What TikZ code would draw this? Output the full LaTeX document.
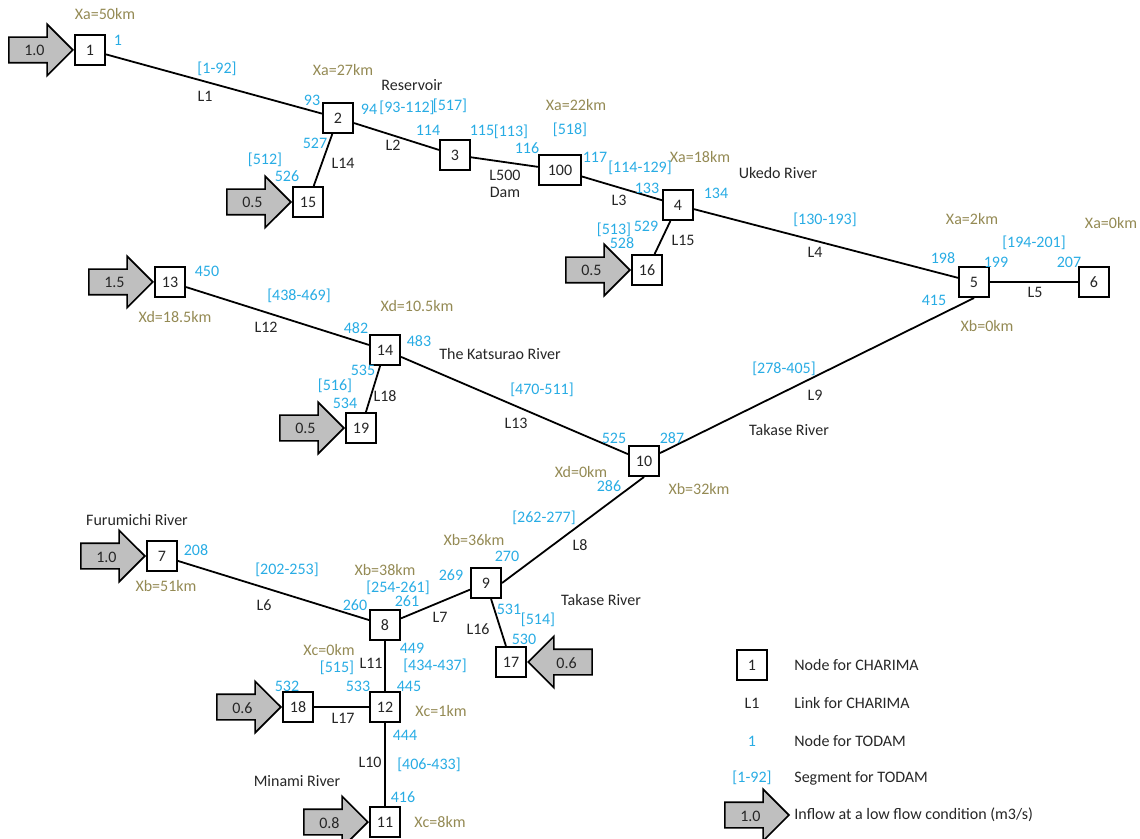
\documentclass[tikz,border=0pt]{standalone}
\usepackage{fontspec}
\setmainfont{Carlito}
\usetikzlibrary{shapes.arrows}
\definecolor{todamblue}{RGB}{40,172,228}
\definecolor{xtan}{RGB}{148,138,84}
\definecolor{txtgray}{RGB}{38,38,38}
\newcommand\lblfont{\fontsize{8}{8.6}\selectfont}
\tikzset{
  chbox/.style={
    rectangle, draw=black, line width=1pt, fill=white,
    minimum size=15pt, inner sep=1pt,
    font=\lblfont, text=txtgray
  },
  inflow/.style={
    single arrow, draw=black, line width=0.8pt, fill=gray!50,
    minimum height=32pt, single arrow head extend=6.5pt,
    text height=6pt, text depth=0pt, inner ysep=3pt, inner xsep=2pt,
    font=\lblfont, text=txtgray, anchor=tip
  },
  link/.style={line width=0.9pt, color=black},
  tnode/.style={inner sep=0pt, font=\lblfont, text=todamblue},
  xlab/.style={inner sep=0pt, font=\lblfont, text=xtan},
  lab/.style={inner sep=0pt, font=\lblfont, text=txtgray},
  legtext/.style={inner sep=0pt, font=\lblfont, text=txtgray, anchor=west},
}

\begin{document}
\begin{tikzpicture}[x=0.5pt, y=-0.5pt]
  \useasboundingbox (0,0) rectangle (1140,839);

  \node[chbox] (n1)   at (90,50)   {1};
  \node[chbox] (n2)   at (338,118) {2};
  \node[chbox] (n3)   at (455,155) {3};
  \node[chbox, minimum width=21pt] (n100) at (560,170) {100};
  \node[chbox] (n4)   at (678,205) {4};
  \node[chbox] (n5)   at (974,282) {5};
  \node[chbox] (n6)   at (1094,282) {6};
  \node[chbox] (n15)  at (308,202) {15};
  \node[chbox] (n16)  at (647,270) {16};
  \node[chbox] (n13)  at (170,282) {13};
  \node[chbox] (n14)  at (385,350) {14};
  \node[chbox] (n19)  at (361,428) {19};
  \node[chbox] (n10)  at (644,461) {10};
  \node[chbox] (n7)   at (162,556) {7};
  \node[chbox] (n8)   at (385,625) {8};
  \node[chbox] (n9)   at (486,583) {9};
  \node[chbox] (n17)  at (511,662) {17};
  \node[chbox] (n12)  at (385,707) {12};
  \node[chbox] (n18)  at (298,707) {18};
  \node[chbox] (n11)  at (385,822) {11};

  \draw[link] (n1) -- (n2);
  \draw[link] (n2) -- (n3);
  \draw[link] (n3) -- (n100);
  \draw[link] (n100) -- (n4);
  \draw[link] (n4) -- (n5);
  \draw[link] (n5) -- (n6);
  \draw[link] (n2) -- (n15);
  \draw[link] (n4) -- (n16);
  \draw[link] (n13) -- (n14);
  \draw[link] (n14) -- (n19);
  \draw[link] (n14) -- (n10);
  \draw[link] (n5.south) -- (n10);
  \draw[link] (n10.south) -- (n9.east);
  \draw[link] (n9) -- (n8);
  \draw[link] (n7) -- (n8);
  \draw[link] (n9) -- (n17);
  \draw[link] (n8) -- (n12);
  \draw[link] (n12) -- (n18);
  \draw[link] (n12) -- (n11);

  \node[inflow] (q1)  at (n1.west)  {1.0};
  \node[inflow] (q15) at (n15.west) {0.5};
  \node[inflow] (q16) at (n16.west) {0.5};
  \node[inflow] (q13) at (n13.west) {1.5};
  \node[inflow] (q19) at (n19.west) {0.5};
  \node[inflow] (q7)  at (n7.west)  {1.0};
  \node[inflow, shape border rotate=180] (q17) at (n17.east) {0.6};
  \node[inflow] (q18) at (n18.west) {0.6};
  \node[inflow] (q11) at (n11.west) {0.8};

  \node[xlab] (xa50)  at (105,14)  {Xa=50km};
  \node[xlab] (xa27)  at (343,70)  {Xa=27km};
  \node[xlab] (xa22)  at (576,105) {Xa=22km};
  \node[xlab] (xa18)  at (700,157) {Xa=18km};
  \node[xlab] (xa2)   at (972,219) {Xa=2km};
  \node[xlab] (xa0)   at (1111,223) {Xa=0km};
  \node[xlab] (xb0)   at (987,326) {Xb=0km};
  \node[xlab] (xd185) at (175,317) {Xd=18.5km};
  \node[xlab] (xd105) at (417,306) {Xd=10.5km};
  \node[xlab] (xd0)   at (581,472) {Xd=0km};
  \node[xlab] (xb32)  at (699,489) {Xb=32km};
  \node[xlab] (xb36)  at (474,540) {Xb=36km};
  \node[xlab] (xb38)  at (385,570) {Xb=38km};
  \node[xlab] (xb51)  at (166,586) {Xb=51km};
  \node[xlab] (xc0)   at (329,650) {Xc=0km};
  \node[xlab] (xc1)   at (441,711) {Xc=1km};
  \node[xlab] (xc8)   at (440,822) {Xc=8km};

  \node[tnode] (t1)   at (118,40)  {1};
  \node[tnode] (s1)   at (217,69)  {[1-92]};
  \node[tnode] (t93)  at (312,100) {93};
  \node[tnode] (t94)  at (369,109) {94};
  \node[tnode] (s93)  at (407,108) {[93-112]};
  \node[tnode] (s517) at (450,106) {[517]};
  \node[tnode] (t114) at (428,130) {114};
  \node[tnode] (t115) at (482,130) {115};
  \node[tnode] (s113) at (511,132) {[113]};
  \node[tnode] (t116) at (527,148) {116};
  \node[tnode] (s518) at (570,130) {[518]};
  \node[tnode] (t117) at (595,157) {117};
  \node[tnode] (s114) at (640,168) {[114-129]};
  \node[tnode] (t133) at (647,188) {133};
  \node[tnode] (t134) at (716,193) {134};
  \node[tnode] (s130) at (825,220) {[130-193]};
  \node[tnode] (t198) at (943,258) {198};
  \node[tnode] (t199) at (996,262) {199};
  \node[tnode] (s194) at (1034,243) {[194-201]};
  \node[tnode] (t207) at (1069,262) {207};
  \node[tnode] (t415) at (934,300) {415};
  \node[tnode] (t527) at (315,143) {527};
  \node[tnode] (s512) at (265,160) {[512]};
  \node[tnode] (t526) at (287,176) {526};
  \node[tnode] (s513) at (614,230) {[513]};
  \node[tnode] (t529) at (646,226) {529};
  \node[tnode] (t528) at (622,243) {528};
  \node[tnode] (t450) at (207,271) {450};
  \node[tnode] (s438) at (299,296) {[438-469]};
  \node[tnode] (t482) at (356,328) {482};
  \node[tnode] (t483) at (419,341) {483};
  \node[tnode] (t535) at (363,370) {535};
  \node[tnode] (s516) at (335,386) {[516]};
  \node[tnode] (t534) at (345,403) {534};
  \node[tnode] (s470) at (542,390) {[470-511]};
  \node[tnode] (t525) at (614,438) {525};
  \node[tnode] (t287) at (672,438) {287};
  \node[tnode] (s278) at (784,369) {[278-405]};
  \node[tnode] (t286) at (609,486) {286};
  \node[tnode] (s262) at (544,518) {[262-277]};
  \node[tnode] (t270) at (507,556) {270};
  \node[tnode] (t269) at (451,575) {269};
  \node[tnode] (s254) at (398,588) {[254-261]};
  \node[tnode] (t261) at (407,601) {261};
  \node[tnode] (t260) at (355,605) {260};
  \node[tnode] (t208) at (196,550) {208};
  \node[tnode] (s202) at (287,570) {[202-253]};
  \node[tnode] (t531) at (509,609) {531};
  \node[tnode] (s514) at (538,620) {[514]};
  \node[tnode] (t530) at (524,639) {530};
  \node[tnode] (t449) at (412,648) {449};
  \node[tnode] (s434) at (435,666) {[434-437]};
  \node[tnode] (t445) at (409,686) {445};
  \node[tnode] (s515) at (337,668) {[515]};
  \node[tnode] (t532) at (287,686) {532};
  \node[tnode] (t533) at (358,686) {533};
  \node[tnode] (t444) at (405,735) {444};
  \node[tnode] (s406) at (429,765) {[406-433]};
  \node[tnode] (t416) at (403,797) {416};

  \node[lab] (l1)   at (205,96)  {L1};
  \node[lab] (res)  at (412,85)  {Reservoir};
  \node[lab] (l2)   at (393,145) {L2};
  \node[lab] (l14)  at (343,163) {L14};
  \node[lab, align=center] (l500) at (505,184) {L500\\Dam};
  \node[lab] (l3)   at (619,200) {L3};
  \node[lab] (uked) at (778,173) {Ukedo River};
  \node[lab] (l15)  at (683,240) {L15};
  \node[lab] (l4)   at (815,252) {L4};
  \node[lab] (l5)   at (1035,292) {L5};
  \node[lab] (l12)  at (266,327) {L12};
  \node[lab] (kats) at (500,354) {The Katsurao River};
  \node[lab] (l18)  at (385,396) {L18};
  \node[lab] (l13)  at (516,423) {L13};
  \node[lab] (l9)   at (815,395) {L9};
  \node[lab] (tak1) at (789,430) {Takase River};
  \node[lab] (l8)   at (580,545) {L8};
  \node[lab] (furu) at (137,520) {Furumichi River};
  \node[lab] (l6)   at (264,605) {L6};
  \node[lab] (l7)   at (440,617) {L7};
  \node[lab] (tak2) at (601,600) {Takase River};
  \node[lab] (l16)  at (478,629) {L16};
  \node[lab] (l11)  at (371,663) {L11};
  \node[lab] (l17)  at (343,718) {L17};
  \node[lab] (l10)  at (370,762) {L10};
  \node[lab] (mina) at (297,781) {Minami River};

  \node[chbox] (kbox) at (752,665) {1};
  \node[lab]   (klink) at (752,703) {L1};
  \node[tnode] (knode) at (752,741) {1};
  \node[tnode] (kseg)  at (752,778) {[1-92]};
  \node[inflow] (kflow) at (790,815) {1.0};
  \node[legtext] (kt1) at (794,665) {Node for CHARIMA};
  \node[legtext] (kt2) at (794,703) {Link for CHARIMA};
  \node[legtext] (kt3) at (794,741) {Node for TODAM};
  \node[legtext] (kt4) at (794,778) {Segment for TODAM};
  \node[legtext] (kt5) at (794,815) {Inflow at a low flow condition (m3/s)};
\end{tikzpicture}
\end{document}
